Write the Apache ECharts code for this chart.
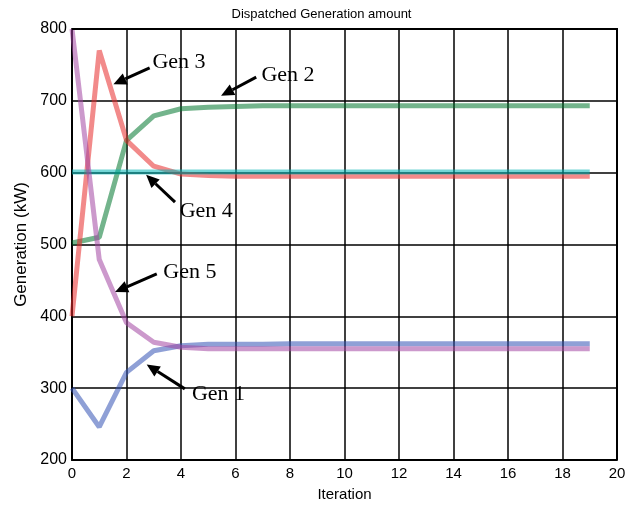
<!DOCTYPE html>
<html><head><meta charset="utf-8">
<script src="https://cdn.jsdelivr.net/npm/echarts@6/dist/echarts.min.js"></script>
<style>html,body{margin:0;padding:0;background:#fff}#c{width:643px;height:508px}</style>
</head><body><div id="c"></div>
<script>
var iterations = [0,1,2,3,4,5,6,7,8,9,10,11,12,13,14,15,16,17,18,19];
var gen1 = [300,246,322,352,359,361,361,361,362,362,362,362,362,362,362,362,362,362,362,362];
var gen2 = [502,510,645,679,689,691,692,693,693,693,693,693,693,693,693,693,693,693,693,693];
var gen3 = [400,770,645,609,598,596,595,595,595,595,595,595,595,595,595,595,595,595,595,595];
var gen4 = [601,601,601,601,601,601,601,601,601,601,601,601,601,601,601,601,601,601,601,601];
var gen5 = [800,479,391,364,357,355,355,355,355,355,355,355,355,355,355,355,355,355,355,355];
var seriesNames = ['Gen 1','Gen 2','Gen 3','Gen 4','Gen 5'];
var xTicks = [0,2,4,6,8,10,12,14,16,18,20];
var yTicks = [200,300,400,500,600,700,800];
// annotations: [label, textX, textY, tailX, tailY, headX, headY] in data units
var annotations = [
  ['Gen 3', 2.95, 754, 2.85, 746, 1.52, 723],
  ['Gen 2', 6.95, 735, 6.76, 733, 5.47, 707],
  ['Gen 4', 3.95, 547, 3.78, 559, 2.72, 597],
  ['Gen 5', 3.35, 462, 3.11, 459, 1.58, 434],
  ['Gen 1', 4.4, 292, 4.14, 299, 2.74, 333]
];
var colors = ['rgba(51,82,180,0.55)','rgba(0,119,46,0.55)','rgba(231,42,42,0.55)','rgba(0,180,180,0.55)','rgba(162,69,162,0.55)'];
var all = [gen1,gen2,gen3,gen4,gen5];

function pairs(v){ return iterations.map(function(x,i){return [x,v[i]];}); }
var chart = echarts.init(document.getElementById('c'));
var option = {
  animation:false,
  backgroundColor:'#fff',
  title:{text:'Dispatched Generation amount',left:'center',top:3,textStyle:{fontFamily:'Liberation Sans',fontSize:13,fontWeight:'normal',color:'#000'}},
  grid:{left:72,right:26,top:29,bottom:48,show:false},
  xAxis:{type:'value',min:0,max:20,interval:2,name:'Iteration',nameLocation:'middle',nameGap:27,
    nameTextStyle:{fontFamily:'Liberation Sans',fontSize:15,color:'#000'},
    axisLine:{onZero:false,lineStyle:{color:'#000',width:2}},
    axisTick:{show:false},
    axisLabel:{fontFamily:'Liberation Sans',fontSize:15,color:'#000',margin:6},
    splitLine:{show:true,lineStyle:{color:'#000',width:1.5}}},
  yAxis:{type:'value',min:200,max:800,interval:100,name:'Generation (kW)',nameLocation:'middle',nameGap:40,
    nameTextStyle:{fontFamily:'Liberation Sans',fontSize:17,color:'#000'},
    axisLine:{onZero:false,lineStyle:{color:'#000',width:2}},
    axisTick:{show:false},
    axisLabel:{fontFamily:'Liberation Sans',fontSize:16,color:'#000',margin:5},
    splitLine:{show:true,lineStyle:{color:'#000',width:1.5}}},
  series: all.map(function(v,i){return {name:seriesNames[i],type:'line',data:pairs(v),symbol:'none',
    lineStyle:{color:colors[i],width:5,join:'bevel'},z:2};})
};
chart.setOption(option);

// frame top/right
var gr = chart.getModel().getComponent('grid').coordinateSystem.getRect();
var g = [];
g.push({type:'polyline',shape:{points:[[gr.x,gr.y],[gr.x+gr.width,gr.y],[gr.x+gr.width,gr.y+gr.height]]},style:{stroke:'#000',lineWidth:2,fill:null},z:10});
annotations.forEach(function(a){
  var t = chart.convertToPixel({gridIndex:0},[a[1],a[2]]);
  var p1 = chart.convertToPixel({gridIndex:0},[a[3],a[4]]);
  var p2 = chart.convertToPixel({gridIndex:0},[a[5],a[6]]);
  var dx=p2[0]-p1[0], dy=p2[1]-p1[1], L=Math.sqrt(dx*dx+dy*dy), ux=dx/L, uy=dy/L;
  var hl=13, hw=6;
  var bx=p2[0]-ux*hl, by=p2[1]-uy*hl;
  g.push({type:'line',shape:{x1:p1[0],y1:p1[1],x2:bx,y2:by},style:{stroke:'#000',lineWidth:3},z:20});
  g.push({type:'polygon',shape:{points:[[p2[0],p2[1]],[bx-uy*hw,by+ux*hw],[bx+uy*hw,by-ux*hw]]},style:{fill:'#000'},z:20});
  g.push({type:'text',x:t[0],y:t[1],style:{text:a[0],fill:'#000',font:'22px "Liberation Serif"',textAlign:'left',textVerticalAlign:'middle'},z:20});
});
chart.setOption({graphic:g});
</script></body></html>
